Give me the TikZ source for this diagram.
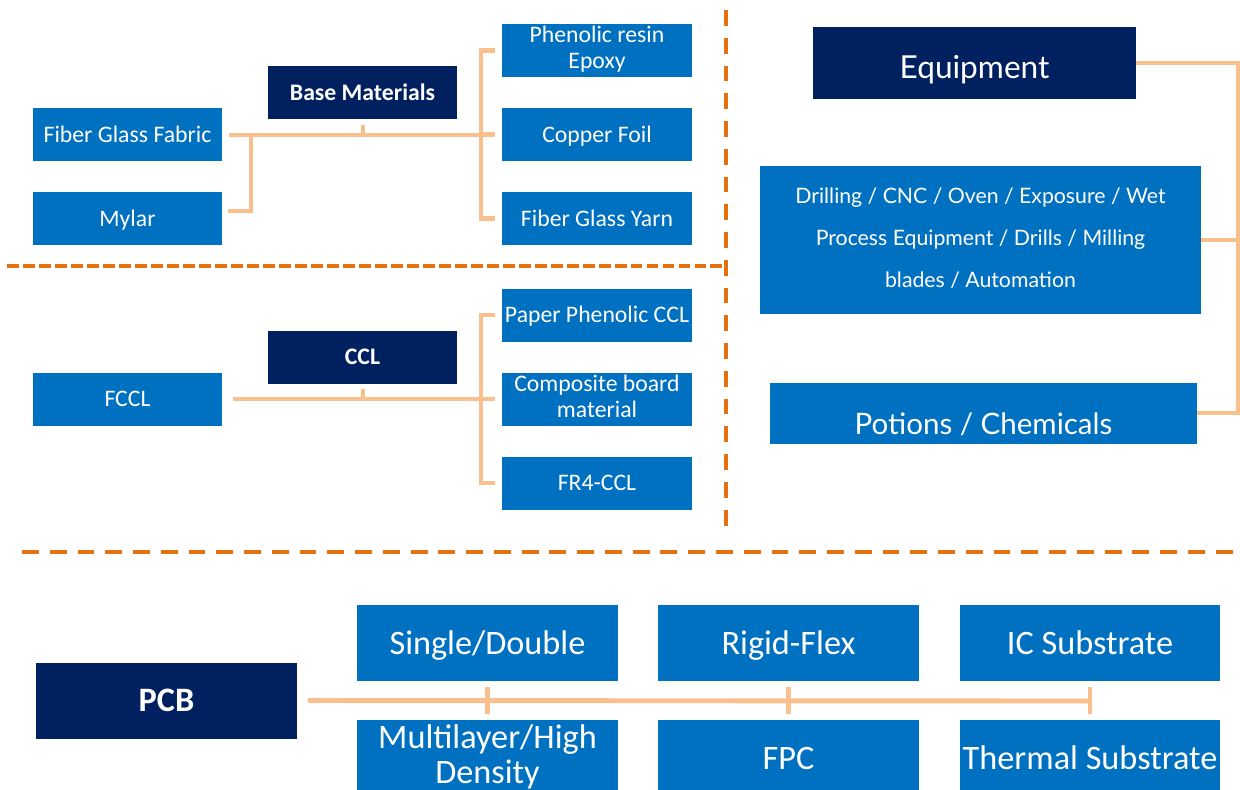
\documentclass[tikz,border=0pt]{standalone}
\usepackage{fontspec}
\setmainfont{Carlito}
\newfontfamily\lightfont{Lato}
\usepackage{xcolor}
\usetikzlibrary{calc}
\definecolor{itemblue}{HTML}{0070C0}
\definecolor{headnavy}{HTML}{002060}
\definecolor{linkpeach}{HTML}{F9BF8C}
\definecolor{cutorange}{HTML}{E5700F}
\newcommand{\levelstrut}[1][1.16em]{\rule[-0.25em]{0pt}{#1}}
\tikzstyle{item}=[fill=itemblue, text=white, inner sep=0pt, align=center, minimum width=3.8cm, minimum height=1.06cm, execute at begin node=\levelstrut, font=\fontsize{13.5}{14.8}\selectfont]
\tikzstyle{head}=[item, fill=headnavy, font=\bfseries\fontsize{13.5}{14.8}\selectfont]
\tikzstyle{pcbitem}=[item, minimum width=5.22cm, minimum height=1.52cm, font=\fontsize{19.5}{19.5}\selectfont]
\tikzstyle{link}=[draw=linkpeach, line width=2.8pt]
\tikzstyle{cut}=[draw=cutorange, line width=2.2pt]

\begin{document}
\begin{tikzpicture}[x=0.02cm, y=-0.02cm]
\useasboundingbox (0,0) rectangle (1240,789);
\clip (0,0) rectangle (1240,789);

% base materials
\node[item] (fabric) at (127.5,134.5) {Fiber Glass Fabric};
\node[item] (mylar) at (127.5,218.5) {Mylar};
\node[head] (base) at (362.5,92.5) {Base Materials};
\node[item] (resin) at (597,50.5) {Phenolic resin\\Epoxy};
\node[item] (foil) at (597,134.5) {Copper Foil};
\node[item] (yarn) at (597,218.5) {Fiber Glass Yarn};
\coordinate (bj) at (481,135);
\coordinate (mj) at (251,135);
\coordinate (bt) at (363,135);
\draw[link] (fabric.east |- 0,135) ++(6,0) -- (bj);
\draw[link] ([xshift=3]mylar.east |- 0,211) -| (mj);
\draw[link] (bt) -- ++(0,-10);
\foreach \n in {resin,foil,yarn}
	\draw[link] (bj) -- (bj |- \n.west) -- ([xshift=-4]\n.west);

% ccl
\node[item] (fccl) at (127.5,399) {FCCL};
\node[head] (ccl) at (362.5,357) {CCL};
\node[item] (paper) at (597,315) {Paper Phenolic CCL};
\node[item] (comp) at (597,399) {Composite board\\material};
\node[item] (fr4) at (597,483) {FR4-CCL};
\coordinate (cj) at (481,399);
\coordinate (ct) at (363,399);
\draw[link] ([xshift=6]fccl.east) -- (cj);
\draw[link] (ct) -- ++(0,-10);
\foreach \n in {paper,comp,fr4}
	\draw[link] (cj) -- (cj |- \n.west) -- ([xshift=-4]\n.west);

% equipment
\node[item, fill=headnavy, minimum width=6.46cm, minimum height=1.44cm, execute at begin node={\levelstrut[1.48em]}, font=\lightfont\fontsize{18}{20}\selectfont] (equip) at (974.5,63) {Equipment};
\node[item, minimum width=8.82cm, minimum height=2.96cm, execute at begin node={\levelstrut[1.62em]}, font=\lightfont\fontsize{12.1}{24}\selectfont] (tools) at (980.5,240) {Drilling / CNC / Oven / Exposure / Wet\\Process Equipment / Drills / Milling\\blades / Automation};
\node[item, minimum width=8.54cm, minimum height=1.22cm, execute at begin node={\levelstrut[1.97em]}, font=\lightfont\fontsize{16.8}{18}\selectfont] (chem) at (983.5,413) {Potions / Chemicals};
\coordinate (ej) at (1238,63);
\draw[link] (equip.east) -- (ej) -- (ej |- chem.east) -- (chem.east);
\draw[link] (tools.east) -- (ej |- tools.east);

% pcb
\node[pcbitem, fill=headnavy, font=\bfseries\fontsize{19.5}{20}\selectfont] (pcb) at (166.5,700.5) {PCB};
\foreach \n/\x/\up/\down in {sd/487.5/Single\slash Double/Multilayer\slash High\\Density,rf/788.5/Rigid-Flex/FPC,ic/1090/IC Substrate/Thermal Substrate} {
	\node[pcbitem] (\n up) at (\x,643) {\up};
	\node[pcbitem, anchor=north] (\n down) at (\x,720) {\down};
	\draw[link] (\x,687) -- (\x,714);
}
\draw[link] ([xshift=6]pcb.east) -- (1091,701);

% dividers
\draw[cut, dash pattern=on 6.8pt off 2.3pt] (7,266) -- (726,266);
\draw[cut, dash pattern=on 9pt off 6.8pt] (726,10) -- (726,530);
\draw[cut, dash pattern=on 9.6pt off 6.2pt] (22,552) -- (1240,552);
\end{tikzpicture}
\end{document}
